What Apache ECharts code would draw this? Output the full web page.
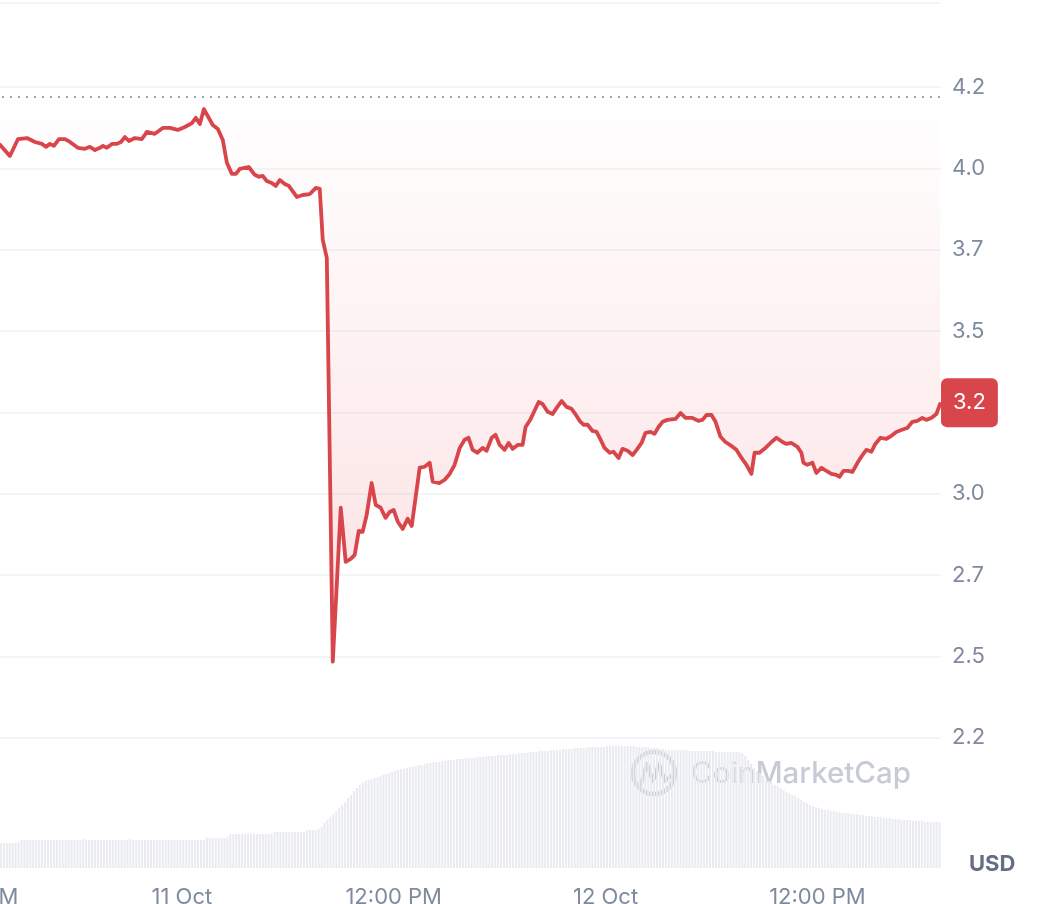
<!DOCTYPE html>
<html><head><meta charset="utf-8">
<script src="https://cdn.jsdelivr.net/npm/echarts@6/dist/echarts.min.js"></script>
<style>html,body{margin:0;padding:0;background:#fff;overflow:hidden}#c{width:1048px;height:904px}</style>
</head><body><div id="c"></div>
<script>
// time in hours since 10 Oct 12:00 PM
const priceHours = [1.70,2.26,2.72,3.23,3.68,4.08,4.30,4.53,4.75,5.04,5.38,5.66,6.11,6.51,6.79,7.08,7.36,7.53,7.75,8.04,8.32,8.55,8.77,9.00,9.34,9.74,10.02,10.47,10.92,11.32,11.77,12.17,12.57,12.79,13.02,13.25,13.75,14.04,14.32,14.55,14.83,15.06,15.28,15.79,16.13,16.36,16.58,16.81,17.09,17.32,17.55,17.83,18.06,18.51,18.85,19.25,19.59,19.81,19.98,20.21,20.55,21.00,21.28,21.57,21.79,22.02,22.24,22.47,22.75,22.98,23.26,23.54,23.77,24.00,24.23,24.51,24.79,25.02,25.47,25.75,26.04,26.21,26.60,26.89,27.17,27.45,27.74,28.02,28.24,28.47,28.75,29.04,29.26,29.55,29.77,30.00,30.28,30.51,30.74,31.02,31.30,31.47,31.76,32.21,32.43,32.72,33.00,33.23,33.51,33.79,34.07,34.25,34.53,34.75,34.98,35.26,35.49,35.72,35.94,36.23,36.45,36.74,36.96,37.25,37.53,37.76,38.04,38.26,38.55,38.77,39.00,39.23,39.51,39.96,40.25,40.53,40.92,41.26,41.49,41.72,42.00,42.23,42.51,42.79,43.13,43.41,43.70,43.98,44.26,44.44,44.72,45.00,45.40,45.68,46.02,46.25,46.53,46.87,47.09,47.21,47.43,47.72,47.94,48.23,48.51,48.79,49.07,49.25,49.47,49.75,49.98,50.27,50.55,50.77,51.06,51.28,51.57,51.91,52.19,52.47,52.75,53.09,53.38,53.66,53.94,54.17,54.45,54.74,54.95];
const priceValues = [4.022,3.988,4.040,4.043,4.031,4.025,4.016,4.025,4.019,4.040,4.040,4.031,4.013,4.010,4.016,4.006,4.013,4.019,4.013,4.025,4.025,4.031,4.046,4.034,4.043,4.040,4.062,4.056,4.074,4.074,4.068,4.077,4.089,4.105,4.086,4.132,4.083,4.071,4.037,3.967,3.933,3.933,3.948,3.954,3.930,3.924,3.927,3.911,3.905,3.896,3.914,3.902,3.896,3.862,3.868,3.871,3.890,3.887,3.730,3.675,2.434,2.907,2.741,2.750,2.762,2.836,2.833,2.885,2.983,2.916,2.907,2.876,2.894,2.900,2.864,2.842,2.873,2.851,3.030,3.033,3.045,2.987,2.983,2.993,3.011,3.039,3.091,3.116,3.122,3.085,3.076,3.091,3.082,3.122,3.131,3.100,3.085,3.106,3.088,3.100,3.100,3.155,3.180,3.232,3.226,3.202,3.195,3.214,3.235,3.217,3.211,3.198,3.174,3.162,3.162,3.143,3.140,3.116,3.091,3.076,3.079,3.060,3.088,3.082,3.069,3.085,3.106,3.137,3.140,3.134,3.155,3.171,3.177,3.180,3.198,3.183,3.183,3.174,3.177,3.192,3.192,3.171,3.125,3.109,3.097,3.085,3.060,3.039,3.011,3.076,3.076,3.088,3.109,3.122,3.109,3.103,3.106,3.094,3.076,3.045,3.039,3.045,3.014,3.030,3.020,3.011,3.008,3.002,3.020,3.020,3.017,3.045,3.069,3.085,3.079,3.103,3.122,3.119,3.128,3.140,3.146,3.152,3.171,3.174,3.183,3.177,3.183,3.195,3.226];

// volume bars every 10 minutes, starting at volumeStartHour (relative bar heights)
const volumeStartHour = 1.75;
const volumeStepHour = 1 / 6;
const volumeValues = [
  25,25,25,25,25,25,
  26,28,28,28,28,28,
  28,28,28,28,28,28,
  28,28,28,28,28,28,
  28,28,28,28,29,28,
  28,28,28,28,28,28,
  28,28,28,28,28,28,
  28,28,29,28,28,28,
  28,28,28,28,28,28,
  28,28,28,28,28,28,
  28,28,28,28,28,28,
  28,28,28,28,30,30,
  30,30,30,30,30,31,
  34,34,34,34,34,34,
  34,34,34,34,34,34,
  34,34,34,36,36,36,
  36,36,36,36,36,36,
  36,36,38,38,38,38,
  39,41,45,48,51,54,
  57,60,63,66,70,73,
  77,80,83,85,87,88,
  89,90,91,92,93,94,
  95,96,97,98,99,99,
  100,101,101,102,103,103,
  104,105,105,106,106,106,
  107,107,108,108,108,109,
  109,109,110,110,110,110,
  111,111,111,112,112,112,
  112,113,113,113,113,114,
  114,114,115,115,115,115,
  116,116,116,117,117,117,
  117,118,118,118,118,119,
  119,119,119,120,120,120,
  120,120,121,121,121,121,
  121,121,122,122,122,122,
  122,122,122,122,122,122,
  121,121,121,121,121,120,
  120,120,119,119,118,118,
  118,118,118,118,118,118,
  117,117,117,117,117,117,
  117,117,117,116,116,116,
  116,116,116,116,116,116,
  115,112,108,104,100,97,
  95,92,89,87,85,83,
  82,80,78,76,75,73,
  72,70,68,66,65,63,
  62,61,60,59,58,58,
  57,57,56,56,55,55,
  55,54,54,54,53,53,
  52,52,52,51,51,51,
  50,50,50,49,49,49,
  48,48,48,48,47,47,
  47,47,46,46,46,46,
  46,46
];

const xTickHours = [0, 12, 24, 36, 48];
const xTickLabels = ['12:00 PM', '11 Oct', '12:00 PM', '12 Oct', '12:00 PM'];
const yTickValues = [2.2, 2.45, 2.7, 2.95, 3.2, 3.45, 3.7, 3.95, 4.2];
const yTickLabels = ['2.2', '2.5', '2.7', '3.0', '3.2', '3.5', '3.7', '4.0', '4.2'];
const yAxisMin = 1.80, yAxisMax = 4.458;
const xAxisMin = 0, xAxisMax = 55;
const baselineValue = 4.165;
const lastPriceLabel = '3.2';
const currencyLabel = 'USD';
const watermarkText = 'CoinMarketCap';

const RED = '#d8454b';
const AXIS_TEXT = '#808a9d';
const GRID = '#eff2f5';
const FONT = 'Inter';
const WM = '#c6cbd5';

const n = Math.min(priceHours.length, priceValues.length);
const priceData = [];
for (let i = 0; i < n; i++) priceData.push([priceHours[i], priceValues[i]]);
const volumeData = volumeValues.map((v, i) => [volumeStartHour + i * volumeStepHour, v]);
const lastValue = priceValues[n - 1];

const chart = echarts.init(document.getElementById('c'), null, {renderer: 'canvas'});
chart.setOption({
  animation: false,
  backgroundColor: '#ffffff',
  title: {
    text: currencyLabel, left: 964, top: 848,
    textStyle: {fontFamily: FONT, fontSize: 22, fontWeight: 'bold', color: '#646f85'}
  },
  grid: {left: -30, right: 107, top: 3, bottom: 36, containLabel: false, outerBoundsMode: 'none'},
  xAxis: {
    type: 'value', min: xAxisMin, max: xAxisMax, interval: 12,
    axisLine: {show: false}, axisTick: {show: false}, splitLine: {show: false},
    axisLabel: {
      color: AXIS_TEXT, fontFamily: FONT, fontSize: 22, margin: 18,
      showMaxLabel: false,
      formatter: v => { const i = xTickHours.indexOf(v); return i >= 0 ? xTickLabels[i] : ''; }
    }
  },
  yAxis: [{
    type: 'value', position: 'right', min: yAxisMin, max: yAxisMax,
    axisLine: {show: true, lineStyle: {color: GRID, width: 1.5}},
    axisTick: {show: false, customValues: yTickValues.concat([yAxisMax])},
    splitLine: {show: true, lineStyle: {color: GRID, width: 1.5}},
    axisLabel: {
      customValues: yTickValues,
      color: AXIS_TEXT, fontFamily: FONT, fontSize: 22, margin: 11,
      formatter: v => {
        for (let i = 0; i < yTickValues.length; i++) if (Math.abs(v - yTickValues[i]) < 1e-6) return yTickLabels[i];
        return '';
      }
    }
  }, {
    type: 'value', min: 0, max: 865, show: false, splitLine: {show: false}
  }],
  graphic: [{
    type: 'group', z: 100, silent: true,
    children: [
      {type: 'circle', shape: {cx: 654, cy: 773, r: 21}, style: {fill: 'transparent', stroke: WM, lineWidth: 4.5}},
      {type: 'polyline', shape: {points: [[641, 784], [647, 764], [653, 781], [659, 764], [665, 781], [671, 776]]},
       style: {fill: 'transparent', stroke: WM, lineWidth: 4, lineJoin: 'round', lineCap: 'round'}},
      {type: 'text', x: 691, y: 774, style: {text: watermarkText, fill: WM, fontFamily: FONT, fontSize: 29.5, fontWeight: 500, verticalAlign: 'middle'}}
    ]
  }],
  series: [{
    type: 'bar', yAxisIndex: 1, data: volumeData, barWidth: 2,
    itemStyle: {color: '#e9ebf0'}, silent: true, z: 1
  }, {
    type: 'line', data: priceData, showSymbol: false, symbol: 'none', z: 3,
    lineStyle: {color: RED, width: 3.8, join: 'round', cap: 'round'},
    areaStyle: {
      origin: baselineValue,
      color: new echarts.graphic.LinearGradient(0, 0, 0, 1, [
        {offset: 0, color: 'rgba(234,57,67,0.0)'},
        {offset: 1, color: 'rgba(234,57,67,0.22)'}
      ])
    },
    markLine: {
      silent: true, symbol: ['none', 'none'], animation: false,
      data: [
        {yAxis: baselineValue, lineStyle: {type: [2, 6], color: '#9ea3ae', width: 2}, label: {show: false}},
        {yAxis: lastValue, lineStyle: {color: 'rgba(0,0,0,0)', width: 0}, label: {
          show: true, position: 'end', distance: 0, formatter: lastPriceLabel,
          backgroundColor: RED, color: '#ffffff', fontFamily: FONT, fontSize: 22,
          padding: [14, 12, 13, 12], borderRadius: 6, lineHeight: 22, opacity: 1
        }}
      ]
    }
  }]
});
</script></body></html>
